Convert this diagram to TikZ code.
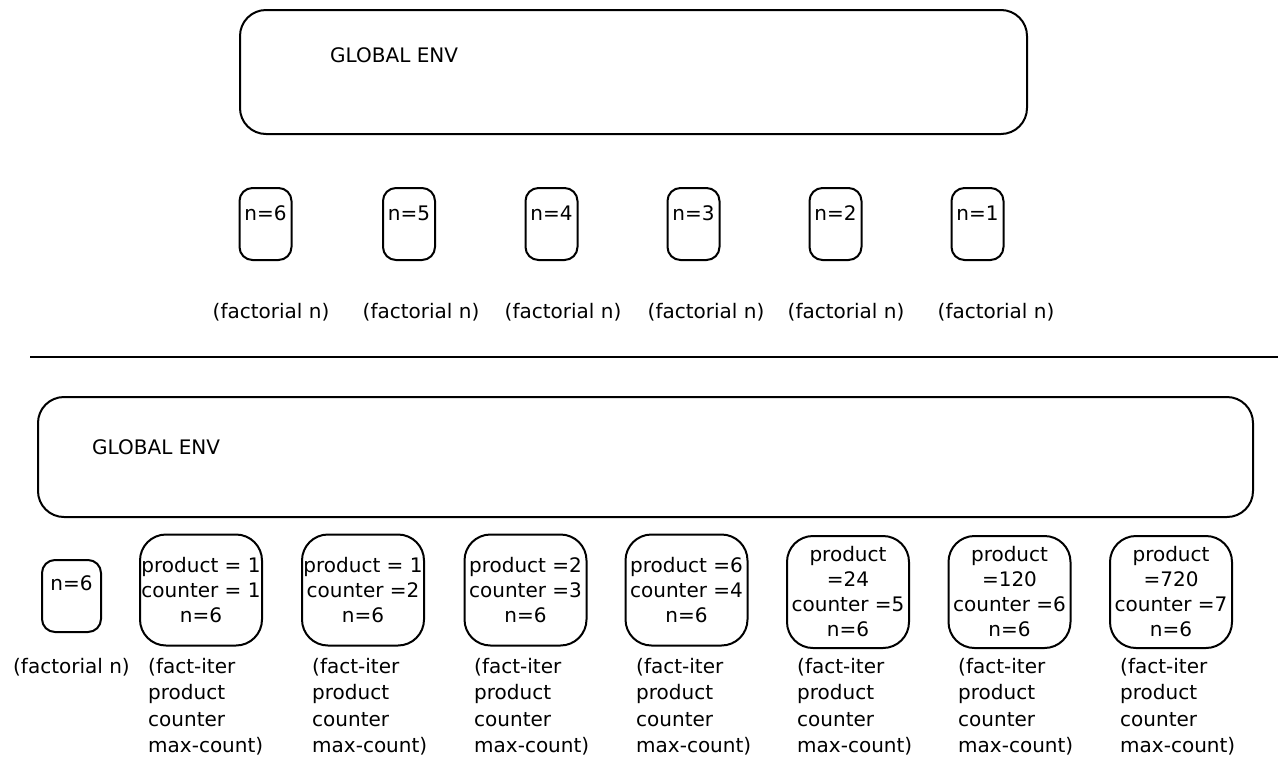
\documentclass[tikz,border=0pt]{standalone}
\usepackage{fontspec}
\setmainfont{DejaVu Sans}
\begin{document}
\begin{tikzpicture}[x=1pt,y=-1pt,
  hand/.style={font=\fontsize{20}{25}\selectfont},
  bigbox/.style={draw, line width=2pt, rounded corners=26pt, inner sep=0pt},
  smallbox/.style={draw, line width=2pt, rounded corners=13pt, inner sep=0pt, minimum width=52pt, minimum height=72pt},
  envbox/.style={draw, line width=2pt, rounded corners=26pt, inner sep=0pt, minimum width=122pt, minimum height=111pt, align=center, hand},
  lbl/.style={hand, inner sep=0pt},
  flbl/.style={font=\fontsize{20}{26.5}\selectfont, inner sep=0pt, align=left, anchor=north west}
]
\useasboundingbox (0,0) rectangle (1287,769);

% ---------- top part ----------
\node[bigbox, minimum width=787pt, minimum height=124pt] (g1) at (633.5,72) {};
\node[lbl, anchor=west] (g1t) at (330,55) {GLOBAL ENV};

\foreach \i/\x/\n/\lx in {1/265.5/6/271, 2/409/5/421, 3/551.5/4/563, 4/693.5/3/706, 5/835.5/2/846, 6/977.5/1/996} {
  \node[smallbox] (t\i) at (\x,224) {};
  \node[lbl] (tt\i) at (\x,213) {n=\n};
  \node[lbl] (tl\i) at (\lx,312) {(factorial n)};
}

% ---------- separator ----------
\coordinate (s1) at (30,357);
\coordinate (s2) at (1278,357);
\draw[line width=2.5pt] (s1) -- (s2);

% ---------- bottom part ----------
\node[bigbox, minimum width=1215pt, minimum height=120pt] (g2) at (645.5,457) {};
\node[lbl, anchor=west] (g2t) at (92,447) {GLOBAL ENV};

\node[smallbox, minimum width=59pt] (b0) at (71.5,596) {};
\node[lbl] (b0t) at (71.5,583) {n=6};
\node[lbl] (b0l) at (71.5,667) {(factorial n)};

\node[envbox] (b1) at (201,590) {product = 1\\counter = 1\\n=6};
\node[envbox] (b2) at (363,590) {product = 1\\counter =2\\n=6};
\node[envbox] (b3) at (525.5,590) {product =2\\counter =3\\n=6};
\node[envbox] (b4) at (686.5,590) {product =6\\counter =4\\n=6};
\node[envbox, minimum height=112pt] (b5) at (848,592) {product\\=24\\counter =5\\n=6};
\node[envbox, minimum height=112pt] (b6) at (1009.5,592) {product\\=120\\counter =6\\n=6};
\node[envbox, minimum height=112pt] (b7) at (1171,592) {product\\=720\\counter =7\\n=6};

\foreach \i/\x in {1/148, 2/312, 3/474, 4/636, 5/797, 6/958, 7/1120} {
  \node[flbl] (bl\i) at (\x,658) {(fact-iter\\product\\counter\\max-count)};
}
\end{tikzpicture}
\end{document}
